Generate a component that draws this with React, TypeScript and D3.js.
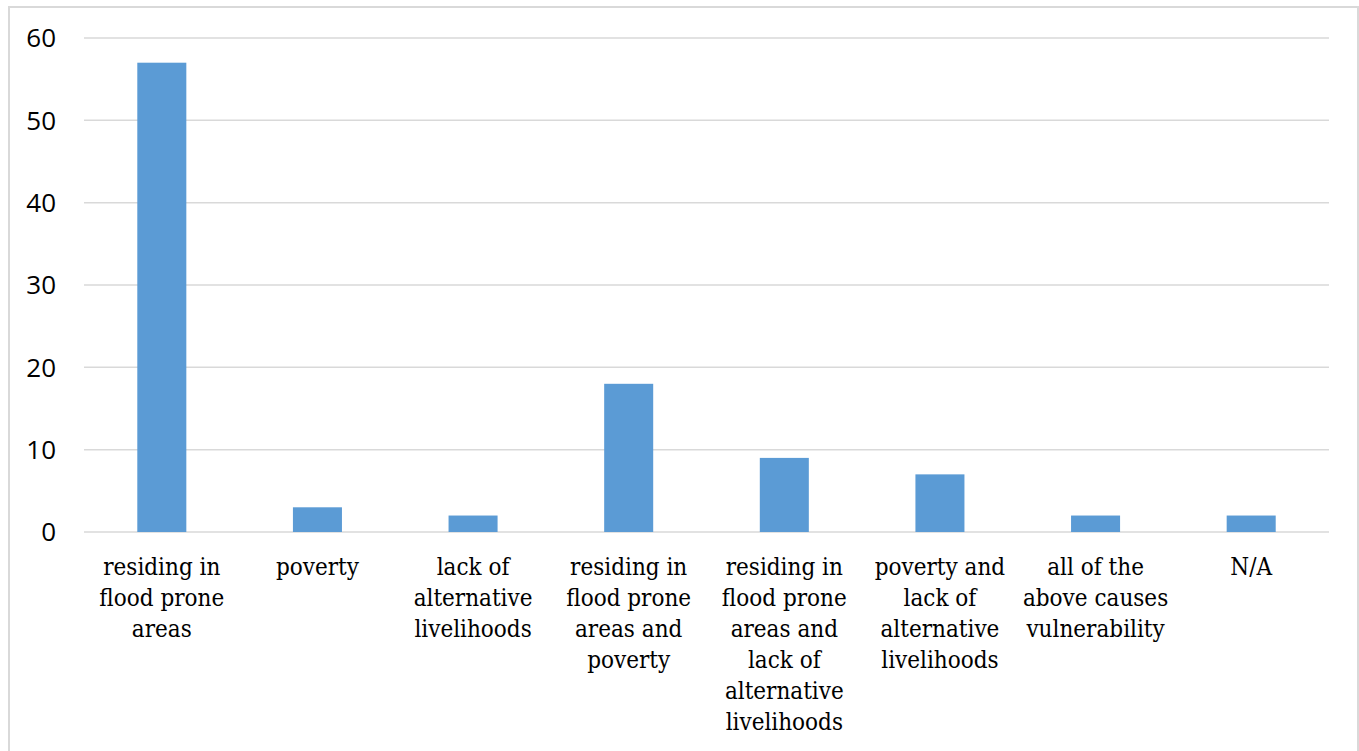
import React from 'react'
import * as d3 from 'd3'

const categories = [
  'residing in flood prone areas',
  'poverty',
  'lack of alternative livelihoods',
  'residing in flood prone areas and poverty',
  'residing in flood prone areas and lack of alternative livelihoods',
  'poverty and lack of alternative livelihoods',
  'all of the above causes vulnerability',
  'N/A'
]
const values = [57, 3, 2, 18, 9, 7, 2, 2]
const labelLines = [
  ['residing in', 'flood prone', 'areas'],
  ['poverty'],
  ['lack of', 'alternative', 'livelihoods'],
  ['residing in', 'flood prone', 'areas and', 'poverty'],
  ['residing in', 'flood prone', 'areas and', 'lack of', 'alternative', 'livelihoods'],
  ['poverty and', 'lack of', 'alternative', 'livelihoods'],
  ['all of the', 'above causes', 'vulnerability'],
  ['N/A']
]
const yTicks = [0, 10, 20, 30, 40, 50, 60]

const width = 1359
const height = 751
const barColour = '#5b9bd5'
const gridColour = '#d9d9d9'

export default function App() {
  const left = 84
  const right = 1329
  const top = 38
  const bottom = 532

  const x = d3.scaleBand<string>().domain(categories).range([left, right])
    .paddingInner(0.685).paddingOuter(0.3425)
  const y = d3.scaleLinear().domain([0, 60]).range([bottom, top])

  const grid = yTicks.map(t => (
    <line key={`g_${t}`} x1={left} x2={right} y1={y(t)} y2={y(t)} stroke={gridColour} strokeWidth={1.5} />
  ))

  const yLabels = yTicks.map(t => (
    <text key={`yl_${t}`} x={56} y={y(t)} dy="0.36em" textAnchor="end"
      fontFamily="'Open Sans', sans-serif" fontSize={26} fill="#000">{t}</text>
  ))

  const bars = categories.map((c, i) => (
    <rect key={`b_${i}`} x={x(c)} y={y(values[i])} width={x.bandwidth()}
      height={bottom - y(values[i])} fill={barColour} />
  ))

  const xLabels = categories.map((c, i) => {
    const cx = (x(c) as number) + x.bandwidth() / 2
    return (
      <text key={`xl_${i}`} textAnchor="middle" fontFamily="'DejaVu Serif', serif"
        fontStretch="condensed" fontSize={24} fill="#000">
        {labelLines[i].map((l, j) => (
          <tspan key={j} x={cx} y={575 + j * 31}>{l}</tspan>
        ))}
      </text>
    )
  })

  return (
    <div style={{ position: 'absolute', left: 0, top: 0 }}>
      <svg width={width} height={height} style={{ display: 'block', background: '#fff' }}>
        <rect x={9} y={7} width={1349} height={760} fill="none" stroke={gridColour} strokeWidth={2} />
        {grid}
        {bars}
        {yLabels}
        {xLabels}
      </svg>
    </div>
  )
}
